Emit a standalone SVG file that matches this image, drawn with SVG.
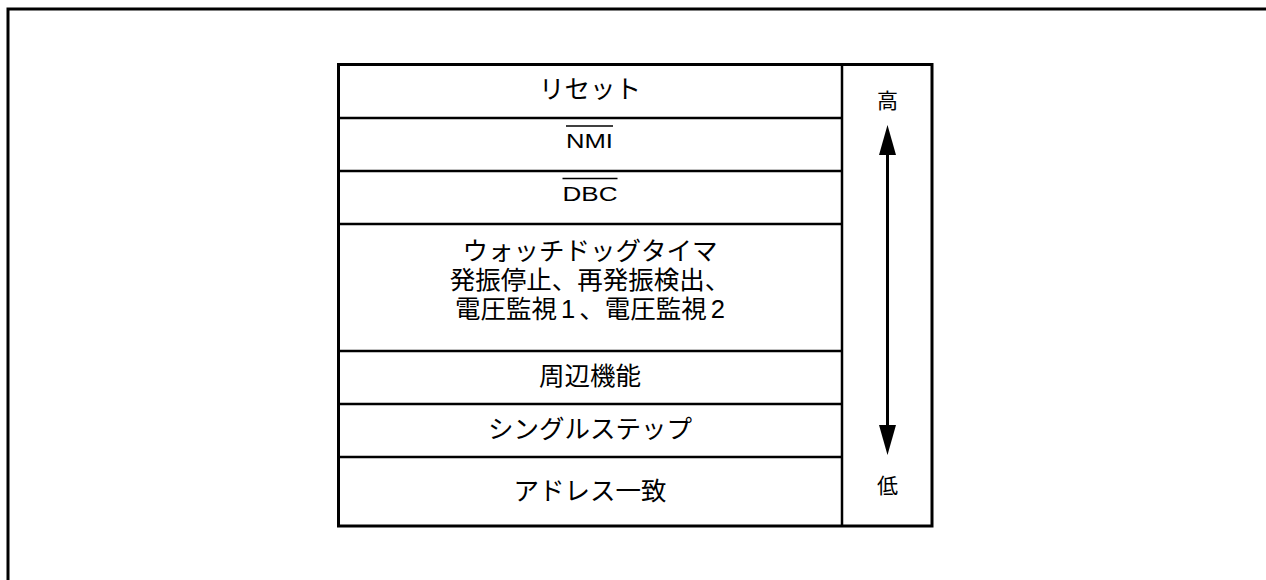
<svg xmlns="http://www.w3.org/2000/svg" width="1266" height="580" viewBox="0 0 1266 580">
  <style>
    .frame { fill: none; stroke: #000; stroke-width: 3; }
    .div { fill: none; stroke: #000; stroke-width: 2.5; }
    .jp { font-family: "Liberation Sans", "Noto Sans CJK JP", sans-serif; font-size: 25.5px; fill: #000; text-anchor: middle; }
    .lat { font-family: "Liberation Sans", Arial, sans-serif; font-size: 20px; fill: #000; text-anchor: middle; }
    .small { font-family: "Noto Sans CJK JP", sans-serif; font-size: 21px; fill: #000; text-anchor: middle; }
    .ov { stroke: #000; stroke-width: 1.5; }
    .shaft { stroke: #000; stroke-width: 3; }
    .head { fill: #000; }
  </style>
  <rect width="1266" height="580" fill="#fff"/>
  <path class="frame" d="M8,580 V9 H1266"/>

  <g id="table">
    <rect class="frame" x="338.5" y="64.5" width="593.5" height="461.5"/>
    <line class="div" x1="842" y1="64.5" x2="842" y2="526"/>
  </g>

  <g id="row-reset">
    <line class="div" x1="338.5" y1="118" x2="842" y2="118"/>
    <text class="jp" x="590" y="98">リセット</text>
  </g>
  <g id="row-nmi">
    <line class="div" x1="338.5" y1="171" x2="842" y2="171"/>
    <text class="lat" x="589.5" y="148" textLength="47" lengthAdjust="spacingAndGlyphs">NMI</text>
    <line class="ov" x1="566" y1="126" x2="613" y2="126"/>
  </g>
  <g id="row-dbc">
    <line class="div" x1="338.5" y1="224" x2="842" y2="224"/>
    <text class="lat" x="590" y="201" textLength="55" lengthAdjust="spacingAndGlyphs">DBC</text>
    <line class="ov" x1="562.5" y1="178.5" x2="617.5" y2="178.5"/>
  </g>
  <g id="row-watchdog">
    <line class="div" x1="338.5" y1="351" x2="842" y2="351"/>
    <text class="jp" x="590" y="260">ウォッチドッグタイマ</text>
    <text class="jp" x="590" y="288.5">発振停止、再発振検出、</text>
    <text class="jp" x="590" y="318">電圧監視<tspan dx="4">1</tspan><tspan dx="4">、電圧監視</tspan><tspan dx="4">2</tspan></text>
  </g>
  <g id="row-peripheral">
    <line class="div" x1="338.5" y1="404" x2="842" y2="404"/>
    <text class="jp" x="590" y="385">周辺機能</text>
  </g>
  <g id="row-singlestep">
    <line class="div" x1="338.5" y1="457" x2="842" y2="457"/>
    <text class="jp" x="590" y="438">シングルステップ</text>
  </g>
  <g id="row-address">
    <text class="jp" x="590" y="500">アドレス一致</text>
  </g>

  <g id="label-high">
    <text class="small" x="887.5" y="108">高</text>
  </g>
  <g id="label-low">
    <text class="small" x="887.5" y="493">低</text>
  </g>

  <g id="connectors">
    <line class="shaft" x1="887.5" y1="154" x2="887.5" y2="426"/>
    <polygon class="head" points="887.5,125 896,155 879,155"/>
    <polygon class="head" points="887.5,455 896,425 879,425"/>
  </g>
</svg>
